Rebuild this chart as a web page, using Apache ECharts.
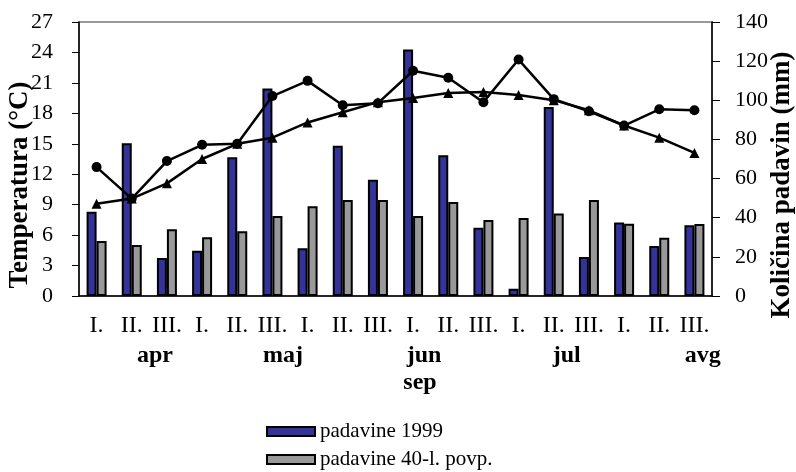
<!DOCTYPE html>
<html>
<head>
<meta charset="utf-8">
<script src="https://cdn.jsdelivr.net/npm/echarts@6/dist/echarts.min.js"></script>
<style>html,body{margin:0;padding:0;background:#fff}#c{width:796px;height:472px}</style>
</head>
<body>
<div id="c"></div>
<script>
var categories = ['I.','II.','III.','I.','II.','III.','I.','II.','III.','I.','II.','III.','I.','II.','III.','I.','II.','III.'];
var precip1999 = [43, 78, 19.4, 23.1, 70.9, 106, 24.4, 76.8, 59.4, 126, 71.9, 34.9, 3.7, 96.6, 19.9, 37.5, 25.5, 36.1];
var precipAvg = [28.1, 26.1, 34.1, 30, 33.1, 40.9, 45.8, 49.1, 49.1, 40.9, 48, 38.8, 39.9, 42.1, 49.1, 36.9, 29.8, 36.8];
var temp1999 = [12.7, 9.6, 13.3, 14.9, 15.0, 19.7, 21.2, 18.8, 19.0, 22.2, 21.5, 19.1, 23.3, 19.4, 18.2, 16.8, 18.4, 18.3];
var tempAvg = [9.1, 9.6, 11.1, 13.5, 15.0, 15.6, 17.1, 18.1, 19.1, 19.5, 20.0, 20.1, 19.8, 19.3, 18.3, 16.8, 15.6, 14.1];
var monthLabels = ['apr','maj','jun','jul','avg'];
var monthPos = [1.66, 5.3, 9.31, 13.37, 17.24];
var serif = '"Liberation Serif", "Times New Roman", serif';

var legendBase = {
  orient: 'horizontal', left: 266, itemWidth: 48, itemHeight: 9,
  icon: 'rect', padding: 0,
  textStyle: {fontFamily: serif, fontSize: 21, color: '#000'}
};

var chart = echarts.init(document.getElementById('c'));
chart.setOption({
  animation: false,
  grid: {left: 79, right: 84, top: 22, bottom: 176, show: true, borderColor: '#999', borderWidth: 2, backgroundColor: 'transparent'},
  legend: [
    Object.assign({}, legendBase, {data: ['padavine 1999'], top: 421}),
    Object.assign({}, legendBase, {data: ['padavine 40-l. povp.'], top: 449})
  ],
  xAxis: {
    type: 'category', data: categories,
    axisLine: {lineStyle: {color: '#000', width: 1.5}},
    axisTick: {length: 8, lineStyle: {color: '#000', width: 1}},
    axisLabel: {interval: 0, fontFamily: serif, fontSize: 24, color: '#000', margin: 18}
  },
  yAxis: [{
    type: 'value', min: 0, max: 27, interval: 3, position: 'left',
    splitLine: {show: false},
    axisLine: {show: true, lineStyle: {color: '#000', width: 1.5}},
    axisTick: {show: true, length: 7, lineStyle: {color: '#000'}},
    axisLabel: {fontFamily: serif, fontSize: 22, color: '#000', margin: 26}
  }, {
    type: 'value', min: 0, max: 140, interval: 20, position: 'right',
    splitLine: {show: false},
    axisLine: {show: true, lineStyle: {color: '#000', width: 1.5}},
    axisTick: {show: true, length: 8, lineStyle: {color: '#000'}},
    axisLabel: {fontFamily: serif, fontSize: 22, color: '#000', margin: 23}
  }],
  series: [{
    name: 'padavine 1999', type: 'bar', yAxisIndex: 1, data: precip1999,
    barWidth: 10, barGap: '0%',
    itemStyle: {color: '#333399', borderColor: '#000', borderWidth: 2}
  }, {
    name: 'padavine 40-l. povp.', type: 'bar', yAxisIndex: 1, data: precipAvg,
    barWidth: 10, barGap: '0%',
    itemStyle: {color: '#999999', borderColor: '#000', borderWidth: 2}
  }, {
    name: 'temperatura 1999', type: 'line', yAxisIndex: 0, data: temp1999,
    symbol: 'circle', symbolSize: 10, z: 5,
    lineStyle: {color: '#000', width: 2.5}, itemStyle: {color: '#000'}
  }, {
    name: 'temperatura povp.', type: 'line', yAxisIndex: 0, data: tempAvg,
    symbol: 'triangle', symbolSize: 10, z: 5,
    lineStyle: {color: '#000', width: 2.5}, itemStyle: {color: '#000'}
  }]
});

var x0 = chart.convertToPixel({xAxisIndex: 0}, 0);
var x1 = chart.convertToPixel({xAxisIndex: 0}, 1);
var cw = x1 - x0;
var g = [];
for (var i = 0; i < monthLabels.length; i++) {
  g.push({type: 'text', x: x0 + monthPos[i] * cw, y: 356,
    style: {text: monthLabels[i], fontFamily: serif, fontSize: 24, fontWeight: 'bold', fill: '#000', textAlign: 'center', textVerticalAlign: 'middle'}});
}
g.push({type: 'text', x: 420, y: 383,
  style: {text: 'sep', fontFamily: serif, fontSize: 24, fontWeight: 'bold', fill: '#000', textAlign: 'center', textVerticalAlign: 'middle'}});
g.push({type: 'text', x: 20, y: 185, rotation: Math.PI / 2,
  style: {text: 'Temperatura (°C)', fontFamily: serif, fontSize: 27, fontWeight: 'bold', fill: '#000', textAlign: 'center', textVerticalAlign: 'middle'}});
g.push({type: 'text', x: 782, y: 185, rotation: Math.PI / 2,
  style: {text: 'Količina padavin (mm)', fontFamily: serif, fontSize: 27, fontWeight: 'bold', fill: '#000', textAlign: 'center', textVerticalAlign: 'middle'}});
chart.setOption({graphic: g});
</script>
</body>
</html>
